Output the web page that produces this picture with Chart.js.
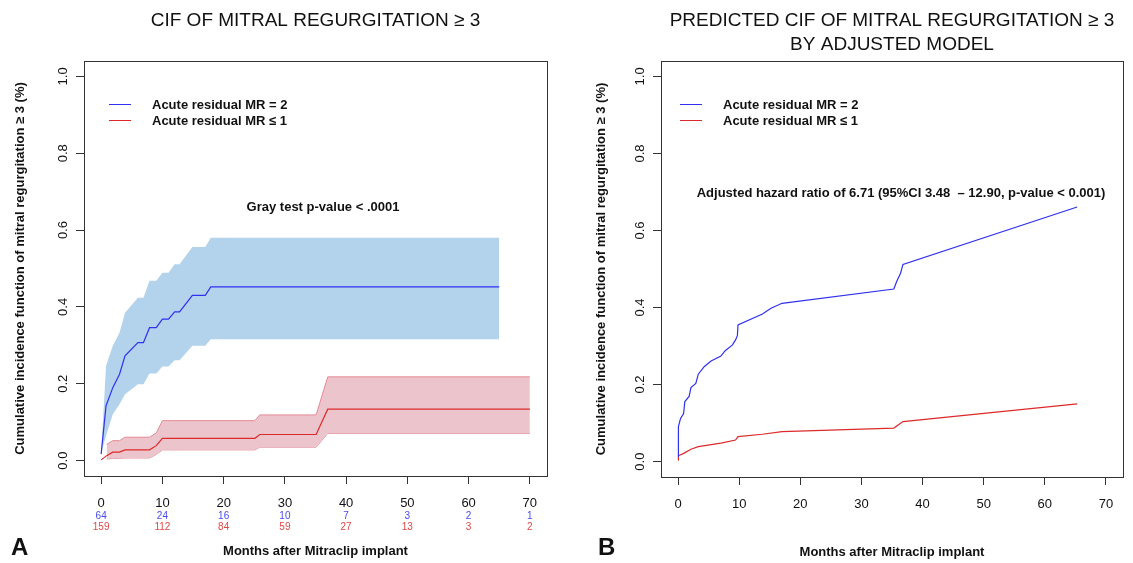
<!DOCTYPE html>
<html lang="en">
<head>
<meta charset="UTF-8">
<title>CIF of mitral regurgitation</title>
<script src="https://cdn.jsdelivr.net/npm/chart.js"></script>
<style>
  html, body { margin: 0; padding: 0; background: #fff; }
  .wrap { position: relative; width: 1133px; height: 563px; }
  canvas { position: absolute; top: 0; }
  #left { left: 0; }
  #right { left: 566px; }
</style>
</head>
<body>
<div class="wrap">
  <canvas id="left" width="566" height="563"></canvas>
  <canvas id="right" width="567" height="563"></canvas>
</div>
<script>
// axis ticks
const xTicks = [0, 10, 20, 30, 40, 50, 60, 70];
const yTicks = [0, 0.2, 0.4, 0.6, 0.8, 1.0];

// numbers at risk (panel A)
const riskMR2 = [64, 24, 16, 10, 7, 3, 2, 1];
const riskMR1 = [159, 112, 84, 59, 27, 13, 3, 2];

// panel A, MR = 2 : estimate and 95% band
const aBlueX   = [0, 0.8, 1.9, 3.0, 3.9, 6.0, 6.9, 7.9, 9.0, 10.0, 11.0, 12.0, 12.8, 14.9, 17.0, 17.9, 65];
const aBlueY   = [0.017, 0.143, 0.19, 0.225, 0.273, 0.307, 0.307, 0.346, 0.346, 0.368, 0.368, 0.387, 0.387, 0.43, 0.43, 0.452, 0.452];
const aBlueHi  = [0.02, 0.247, 0.299, 0.333, 0.385, 0.424, 0.424, 0.468, 0.468, 0.489, 0.489, 0.511, 0.511, 0.556, 0.556, 0.58, 0.58];
const aBlueLo  = [0.02, 0.065, 0.121, 0.147, 0.173, 0.199, 0.199, 0.227, 0.227, 0.245, 0.245, 0.261, 0.261, 0.299, 0.299, 0.316, 0.316];

// panel A, MR <= 1
const aRedX    = [0, 0.9, 1.9, 3.0, 3.9, 7.9, 9.0, 10.0, 25.1, 25.9, 35.1, 37.0, 70];
const aRedY    = [0.002, 0.013, 0.022, 0.022, 0.028, 0.028, 0.039, 0.058, 0.058, 0.068, 0.068, 0.134, 0.134];
const aRedBandX = [0.9, 1.9, 3.0, 3.9, 7.9, 9.0, 10.0, 25.1, 25.9, 35.1, 37.0, 70];
const aRedHi   = [0.042, 0.052, 0.052, 0.061, 0.061, 0.072, 0.104, 0.104, 0.119, 0.119, 0.218, 0.218];
const aRedLo   = [0.004, 0.006, 0.006, 0.007, 0.007, 0.016, 0.028, 0.028, 0.035, 0.035, 0.071, 0.071];

// panel B, adjusted model predictions
const bBlueX = [0, 0.05, 0.4, 0.9, 1.1, 1.8, 2.1, 2.9, 3.3, 4.3, 5.4, 7.0, 7.7, 8.9, 9.4, 9.7, 9.8, 13.8, 15.2, 17.0, 35.3, 35.8, 36.4, 36.8, 65.3];
const bBlueY = [0.013, 0.091, 0.112, 0.125, 0.156, 0.169, 0.192, 0.203, 0.227, 0.247, 0.261, 0.274, 0.288, 0.303, 0.316, 0.327, 0.355, 0.383, 0.398, 0.411, 0.448, 0.469, 0.489, 0.512, 0.661];
const bRedX  = [0, 0.05, 1.0, 2.1, 3.3, 7.0, 9.4, 9.8, 13.8, 17.0, 35.3, 36.8, 65.3];
const bRedY  = [0.004, 0.015, 0.022, 0.032, 0.039, 0.048, 0.056, 0.065, 0.071, 0.078, 0.087, 0.104, 0.150];

const legendLabels = ['Acute residual MR = 2', 'Acute residual MR \u2264 1'];

const BLUE = '#3030f0';
const RED = '#dc2a2a';
const FONT = '"Liberation Sans", Arial, Helvetica, sans-serif';

const pts = (xs, ys) => xs.map((x, i) => ({ x: x, y: ys[i] }));

function line(data, color, order) {
  return { data: data, borderColor: color, borderWidth: 1.2, pointRadius: 0, fill: false, tension: 0, order: order };
}

// draws the R-style frame, labels and texts on top of the chart
function decorations(opt) {
  return {
    id: 'decor',
    afterDraw(chart) {
      const ctx = chart.ctx;
      const a = chart.chartArea;
      const sx = chart.scales.x, sy = chart.scales.y;
      ctx.save();
      ctx.strokeStyle = '#333';
      ctx.lineWidth = 1;
      ctx.strokeRect(Math.round(a.left) + 0.5, Math.round(a.top) + 0.5, Math.round(a.right - a.left), Math.round(a.bottom - a.top));

      ctx.fillStyle = '#111';
      // y tick labels, vertical
      ctx.font = '13px ' + FONT;
      ctx.textAlign = 'center';
      ctx.textBaseline = 'middle';
      yTicks.forEach(v => {
        ctx.save();
        ctx.translate(a.left - 21, sy.getPixelForValue(v));
        ctx.rotate(-Math.PI / 2);
        ctx.fillText(v.toFixed(1), 0, 0);
        ctx.restore();
      });
      // x tick labels
      xTicks.forEach(v => ctx.fillText(String(v), sx.getPixelForValue(v), a.bottom + 27));

      // numbers at risk
      if (opt.risk) {
        ctx.font = '10px ' + FONT;
        xTicks.forEach((v, i) => {
          ctx.fillStyle = '#4a4af0';
          ctx.fillText(String(riskMR2[i]), sx.getPixelForValue(v), a.bottom + 40);
          ctx.fillStyle = '#e04848';
          ctx.fillText(String(riskMR1[i]), sx.getPixelForValue(v), a.bottom + 51);
        });
      }

      const cx = (a.left + a.right) / 2;
      ctx.fillStyle = '#111';
      // y title
      ctx.font = 'bold 13px ' + FONT;
      ctx.save();
      ctx.translate(a.left - opt.yTitleOff, (a.top + a.bottom) / 2);
      ctx.rotate(-Math.PI / 2);
      ctx.fillText('Cumulative incidence function of mitral regurgitation \u2265 3 (%)', 0, 0);
      ctx.restore();
      // x title
      ctx.fillText('Months after Mitraclip implant', cx, opt.xTitleY);

      // panel letter
      ctx.font = 'bold 24px ' + FONT;
      ctx.textAlign = 'left';
      ctx.fillText(opt.letter, opt.letterX, 548);

      // main title
      ctx.font = '19px ' + FONT;
      ctx.textAlign = 'center';
      opt.title.forEach((t, i) => ctx.fillText(t, cx, 21 + i * 24));

      // legend
      ctx.font = 'bold 13px ' + FONT;
      ctx.textAlign = 'left';
      [BLUE, RED].forEach((c, i) => {
        const y = 104 + i * 16;
        ctx.strokeStyle = c;
        ctx.lineWidth = 1;
        ctx.beginPath();
        ctx.moveTo(a.left + opt.legOff, y + 0.5);
        ctx.lineTo(a.left + opt.legOff + 22, y + 0.5);
        ctx.stroke();
        ctx.fillText(legendLabels[i], a.left + opt.legOff + 43, y + 1);
      });

      // annotation
      ctx.textAlign = 'center';
      ctx.fillText(opt.note, opt.noteX, opt.noteY);
      ctx.restore();
    }
  };
}

function makeChart(id, datasets, box, opt) {
  const c = document.getElementById(id);
  return new Chart(c, {
    type: 'line',
    data: { datasets: datasets },
    options: {
      responsive: false,
      animation: false,
      events: [],
      layout: { padding: { top: box.top, right: box.right, left: 0, bottom: 0 } },
      plugins: { legend: { display: false }, tooltip: { enabled: false } },
      scales: {
        x: {
          type: 'linear', min: -2.8, max: 72.8,
          afterBuildTicks: s => { s.ticks = xTicks.map(v => ({ value: v })); },
          afterFit: s => { s.height = c.height - box.bottom; },
          ticks: { display: false },
          border: { display: false },
          grid: { drawOnChartArea: false, drawTicks: true, tickLength: 8, color: '#333' }
        },
        y: {
          type: 'linear', min: -0.04, max: 1.04,
          afterBuildTicks: s => { s.ticks = yTicks.map(v => ({ value: v })); },
          afterFit: s => { s.width = box.left; },
          ticks: { display: false },
          border: { display: false },
          grid: { drawOnChartArea: false, drawTicks: true, tickLength: 8, color: '#333' }
        }
      }
    },
    plugins: [decorations(opt)]
  });
}

// Panel A
makeChart('left', [
  line(pts(aBlueX, aBlueY), BLUE, 0),
  line(pts(aRedX, aRedY), RED, 0),
  { data: pts(aBlueX, aBlueHi), borderWidth: 0, borderColor: 'rgba(0,0,0,0)', backgroundColor: '#b3d3ec', pointRadius: 0, fill: '+1', order: 2 },
  { data: pts(aBlueX, aBlueLo), borderWidth: 0, borderColor: 'rgba(0,0,0,0)', pointRadius: 0, fill: false, order: 2 },
  { data: pts(aRedBandX, aRedHi), borderWidth: 1, borderColor: '#e58a94', backgroundColor: '#ecc4cc', pointRadius: 0, fill: '+1', order: 1 },
  { data: pts(aRedBandX, aRedLo), borderWidth: 1, borderColor: '#e58a94', pointRadius: 0, fill: false, order: 1 }
], { left: 84, top: 61, right: 19, bottom: 476 }, {
  risk: true, letter: 'A', letterX: 11, yTitleOff: 64, xTitleY: 551,
  title: ['CIF OF MITRAL REGURGITATION \u2265 3'],
  legOff: 25, note: 'Gray test p-value < .0001', noteX: 323, noteY: 207
});

// Panel B
makeChart('right', [
  line(pts(bBlueX, bBlueY), BLUE, 0),
  line(pts(bRedX, bRedY), RED, 0)
], { left: 95, top: 61, right: 10, bottom: 477 }, {
  risk: false, letter: 'B', letterX: 32, yTitleOff: 60, xTitleY: 552,
  title: ['PREDICTED CIF OF MITRAL REGURGITATION \u2265 3', 'BY ADJUSTED MODEL'],
  legOff: 19, note: 'Adjusted hazard ratio of 6.71 (95%CI 3.48  \u2013 12.90, p-value < 0.001)', noteX: 335, noteY: 193
});
</script>
</body>
</html>
